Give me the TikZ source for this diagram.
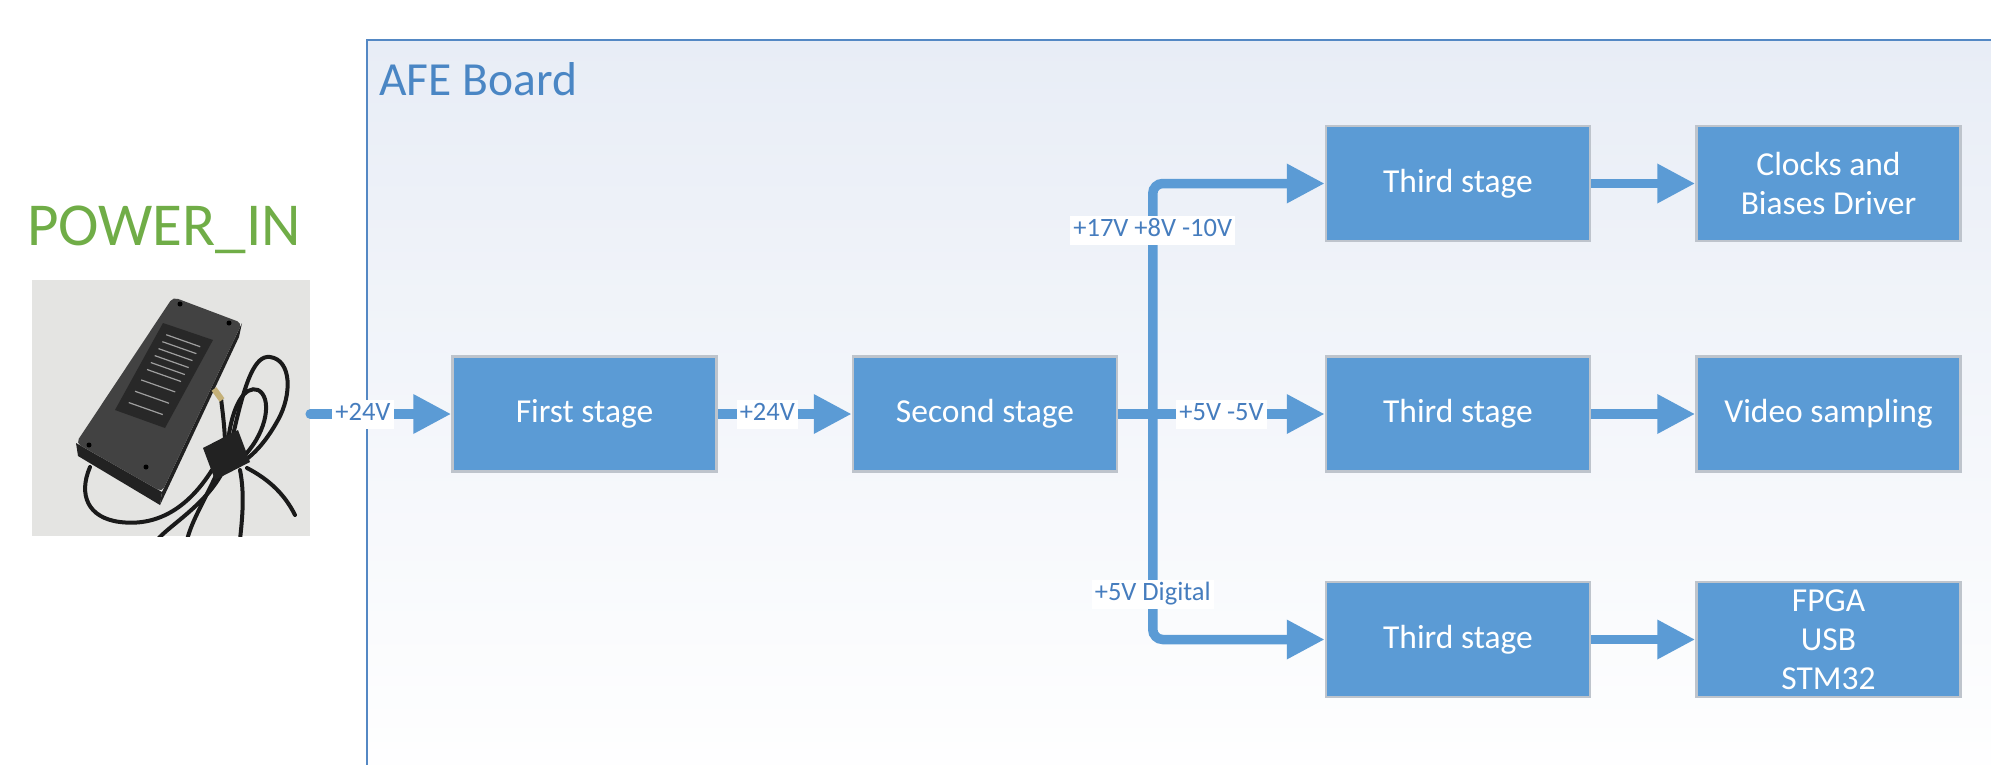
\documentclass[tikz,border=0pt]{standalone}
\usepackage{fontspec}
\setmainfont{Carlito}
\usetikzlibrary{arrows.meta,calc}
\definecolor{boxblue}{RGB}{91,155,213}
\definecolor{boxedge}{RGB}{190,196,204}
\definecolor{lblblue}{RGB}{70,125,190}
\definecolor{boardline}{RGB}{84,136,196}
\definecolor{boardtop}{RGB}{232,237,246}
\definecolor{afeblue}{RGB}{74,134,196}
\definecolor{pwrgreen}{RGB}{112,173,71}
\definecolor{photobg}{RGB}{228,228,226}
\definecolor{adtop}{RGB}{66,66,66}
\definecolor{adside}{RGB}{34,34,34}
\definecolor{adlabel}{RGB}{40,40,40}
\definecolor{cable}{RGB}{26,26,26}
\definecolor{plugc}{RGB}{196,176,120}
\tikzset{
  blk/.style={rectangle, fill=boxblue, draw=boxedge, line width=2.5pt,
    minimum width=264pt, minimum height=115pt, inner sep=0pt, text=white,
    align=center, font=\fontsize{33.5pt}{39pt}\selectfont},
  conn/.style={draw=boxblue, line width=9.5pt, -{Triangle[length=38pt,width=37pt]}},
  lbl/.style={sharp corners, fill=white, text=lblblue, inner xsep=3pt, inner ysep=2pt,
    text height=19pt, text depth=6pt, font=\fontsize{26.5pt}{30pt}\selectfont},
  cab/.style={draw=cable, line width=4pt, line cap=round},
}
\begin{document}
\begin{tikzpicture}[x=1pt,y=-1pt]
\useasboundingbox (0,0) rectangle (1991,765);
\clip (0,0) rectangle (1991,765);
% board
\shade[top color=boardtop, bottom color=white] (367,40) rectangle (2010,790);
\draw[boardline, line width=2.5pt] (367,790) -- (367,40) -- (2010,40);
\node[anchor=base west, text=afeblue, inner sep=0pt, font=\fontsize{47.5pt}{50pt}\selectfont] (afe) at (379,96) {AFE Board};
% power in
\node[anchor=base west, text=pwrgreen, inner sep=0pt, font=\fontsize{61pt}{64pt}\selectfont] (pwr) at (27,245) {POWER\_IN};
\node[fill=photobg, minimum width=278pt, minimum height=256pt, inner sep=0pt] (psu) at (171,408) {};
\begin{scope}
  \clip (psu.south west) rectangle (psu.north east);
  % adapter body
  \fill[adside] (76,443) -- (162,492) -- (160,505) -- (78,456) -- cycle;
  \fill[adside] (242,323) -- (162,492) -- (160,505) -- (239,337) -- cycle;
  \fill[adtop, rounded corners=5pt] (173,297) -- (242,323) -- (162,492) -- (76,443) -- cycle;
  \foreach \p in {(180,304),(229,323),(89,445),(146,467)} \fill[black] \p circle (2.5pt);
  \fill[adlabel] (163,323) -- (213,340) -- (165,428) -- (115,410) -- cycle;
  \foreach \t in {0.1,0.18,0.26,0.34,0.42,0.5,0.62,0.75,0.88}
    \draw[gray!75, line width=1.2pt] ($(163,323)!\t!(115,410)+(8,3)$) -- ++(34,12);
  % cables
  \draw[cab] (90,467) .. controls (78,495) and (88,518) .. (120,522) .. controls (160,527) and (190,505) .. (212,470);
  \draw[cab] (217,473) .. controls (205,500) and (192,520) .. (187,540);
  \draw[cab] (222,473) .. controls (205,505) and (170,525) .. (157,540);
  \draw[cab] (240,470) .. controls (245,495) and (242,520) .. (240,540);
  \draw[cab] (247,468) .. controls (270,480) and (285,495) .. (295,515);
  \draw[cab] (232,440) .. controls (245,380) and (255,355) .. (270,357) .. controls (292,360) and (292,395) .. (278,420) .. controls (268,438) and (258,450) .. (248,458);
  \draw[cab] (228,442) .. controls (232,405) and (245,385) .. (258,390) .. controls (272,397) and (268,430) .. (245,455);
  \draw[cab] (225,440) .. controls (224,420) and (222,408) .. (221,398);
  \draw[plugc, line width=6pt] (222,400) -- (214,389);
  \fill[adside] (203,448) -- (238,430) -- (250,462) -- (215,480) -- cycle;
\end{scope}
% blocks
\node[blk] (s1) at (584.5,414) {First stage};
\node[blk] (s2) at (985,414) {Second stage};
\node[blk] (t1) at (1458,183.5) {Third stage};
\node[blk] (t2) at (1458,414) {Third stage};
\node[blk] (t3) at (1458,639.5) {Third stage};
\node[blk] (r1) at (1828.5,183.5) {Clocks and\\Biases Driver};
\node[blk] (r2) at (1828.5,414) {Video sampling};
\node[blk] (r3) at (1828.5,639.5) {FPGA\\USB\\STM32};
\coordinate (j) at ($(s2.east)+(34.5,0)$);
% connectors
\draw[conn, line cap=round] (psu.east |- s1.west) -- node[lbl, pos=0.374] {+24V} (s1.west);
\draw[conn] (s1.east) -- node[lbl, pos=0.37] {+24V} (s2.west);
\draw[conn, rounded corners=10pt] (j) |- node[lbl, pos=0.399] {+17V +8V -10V} (t1.west);
\draw[conn, rounded corners=10pt] (j) |- node[lbl, pos=0.40] {+5V Digital} (t3.west);
\draw[conn] (s2.east) -- node[lbl, pos=0.5] {+5V -5V} (t2.west);
\draw[conn] (t1.east) -- (r1.west);
\draw[conn] (t2.east) -- (r2.west);
\draw[conn] (t3.east) -- (r3.west);
\end{tikzpicture}
\end{document}
